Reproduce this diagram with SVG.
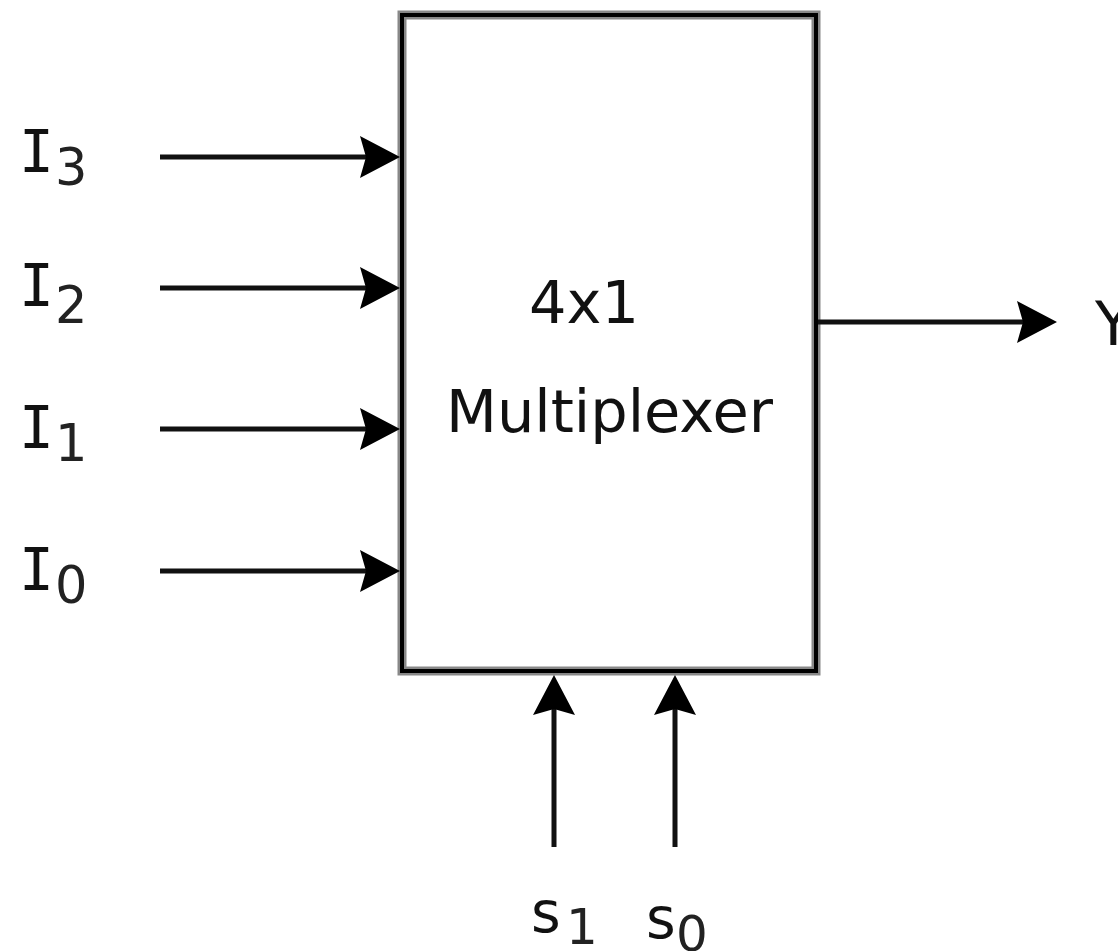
<svg xmlns="http://www.w3.org/2000/svg" width="1118" height="951" viewBox="0 0 1118 951">
<style>
.lbl{font-family:"DejaVu Sans","Liberation Sans",sans-serif;fill:#111}
.sub{font-family:"DejaVu Sans","Liberation Sans",sans-serif;fill:#222}
.ii{font-family:"DejaVu Sans Mono","Liberation Mono",monospace;fill:#111}
.wire{stroke:#111;stroke-width:5;fill:none}
</style>
<defs>
<marker id="arr" markerUnits="userSpaceOnUse" markerWidth="46" markerHeight="48" viewBox="-42 -24 46 48" refX="-34" refY="0" orient="auto">
<path d="M0,0 L-40,-21 L-34,0 L-40,21 Z" fill="#000"/>
</marker>
</defs>
<rect width="1118" height="951" fill="#fff"/>
<g id="mux">
<rect x="402" y="15" width="414" height="656" fill="#fff" stroke="#888" stroke-width="9"/>
<rect x="402" y="15" width="414" height="656" fill="none" stroke="#000" stroke-width="4"/>
<text class="lbl" x="529" y="323" font-size="59">4x1</text>
<text class="lbl" x="446" y="432" font-size="59">Multiplexer</text>
</g>
<g id="connectors">
<line class="wire" x1="160" y1="157" x2="366" y2="157" marker-end="url(#arr)"/>
<line class="wire" x1="160" y1="288" x2="366" y2="288" marker-end="url(#arr)"/>
<line class="wire" x1="160" y1="429" x2="366" y2="429" marker-end="url(#arr)"/>
<line class="wire" x1="160" y1="571" x2="366" y2="571" marker-end="url(#arr)"/>
<line class="wire" x1="818" y1="322" x2="1023" y2="322" marker-end="url(#arr)"/>
<line class="wire" x1="554" y1="847" x2="554" y2="709" marker-end="url(#arr)"/>
<line class="wire" x1="675" y1="847" x2="675" y2="709" marker-end="url(#arr)"/>
</g>
<g id="I3"><text class="ii" x="19" y="172" font-size="58">I</text><text class="sub" x="55" y="185" font-size="51">3</text></g>
<g id="I2"><text class="ii" x="19" y="306" font-size="58">I</text><text class="sub" x="55" y="323" font-size="51">2</text></g>
<g id="I1"><text class="ii" x="19" y="448" font-size="58">I</text><text class="sub" x="55" y="461" font-size="51">1</text></g>
<g id="I0"><text class="ii" x="19" y="590" font-size="58">I</text><text class="sub" x="55" y="603" font-size="51">0</text></g>
<g id="Y"><text class="lbl" x="1095" y="345" font-size="60">Y</text></g>
<g id="s1"><text class="lbl" x="531" y="932" font-size="57">s</text><text class="sub" x="566" y="944" font-size="50">1</text></g>
<g id="s0"><text class="lbl" x="646" y="938" font-size="57">s</text><text class="sub" x="676" y="951" font-size="50">0</text></g>
</svg>
